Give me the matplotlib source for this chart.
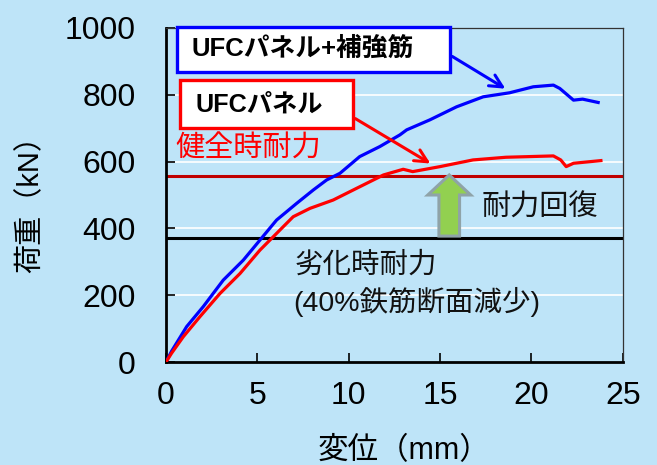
import matplotlib
matplotlib.use("Agg")
import matplotlib.pyplot as plt
from matplotlib.patches import Rectangle, FancyArrow

plt.rcParams['font.family'] = ['Liberation Sans', 'Noto Sans CJK JP', 'DejaVu Sans']

# ---- data ----
blue_x = [0, 0.3, 1.13, 2.04, 3.13, 4.23, 5.14, 6.05, 7.15, 8.06, 8.79, 9.52, 10.6, 11.7,
          12.8, 13.17, 14.44, 15.9, 17.36, 18.8, 20.1, 21.2, 21.55, 22.3, 22.8, 23.65]
blue_y = [0, 32, 106, 166, 245, 305, 365, 425, 475, 515, 545, 565, 615, 645,
          680, 695, 725, 764, 794, 806, 824, 829, 819, 784, 787, 777]

red_x = [0, 0.3, 0.95, 1.86, 2.95, 4.05, 5.14, 6.05, 6.96, 7.88, 9.15, 10.43, 11.9, 12.98,
         13.5, 15.0, 16.8, 18.6, 21.2, 21.6, 21.9, 22.3, 23.8]
red_y = [0, 26, 76, 136, 205, 265, 335, 385, 435, 460, 485, 520, 560, 577,
         570, 585, 605, 613, 617, 605, 585, 595, 603]

sound_capacity = 557      # 健全時耐力
degraded_capacity = 372   # 劣化時耐力

x_ticks = [0, 5, 10, 15, 20, 25]
y_ticks = [0, 200, 400, 600, 800, 1000]

label_blue = "UFCパネル+補強筋"
label_red = "UFCパネル"

bg = '#BEE4F8'

fig = plt.figure(figsize=(6.57, 4.65), dpi=100, facecolor=bg)
ax = fig.add_axes([0.2527, 0.2215, 0.6953, 0.7183], facecolor=bg)

ax.set_xlim(0, 25)
ax.set_ylim(0, 1000)
ax.set_xticks(x_ticks)
ax.set_yticks(y_ticks)
ax.tick_params(direction='in', length=6.5, width=1.2, labelsize=23, color='black')
ax.tick_params(axis='y', pad=22)
ax.tick_params(axis='x', pad=14)

for g in y_ticks[1:-1]:
    ax.axhline(g, color='white', lw=1.2, zorder=1)

for s in ['left', 'bottom']:
    ax.spines[s].set_linewidth(2.0)
    ax.spines[s].set_color('black')
for s in ['top', 'right']:
    ax.spines[s].set_linewidth(0.9)
    ax.spines[s].set_color('#333333')

ax.axhline(sound_capacity, color='#C00000', lw=2.2, zorder=2)
ax.axhline(degraded_capacity, color='black', lw=2.2, zorder=2)

ax.plot(blue_x, blue_y, color='#0000FF', lw=2.3, zorder=4)
ax.plot(red_x, red_y, color='#FF0000', lw=2.3, zorder=4)

# green recovery arrow
arr = FancyArrow(15.5, 377, 0, 183, width=1.13, head_width=2.35, head_length=60,
                 length_includes_head=True, facecolor='#92D050', edgecolor='#8FA3A8',
                 lw=2.2, zorder=5)
ax.add_patch(arr)

# label boxes
ax.add_patch(Rectangle((0.0234, 0.869), 0.621 - 0.0234, 1.004 - 0.869, transform=ax.transAxes,
                       facecolor='white', edgecolor='#0000FF', lw=2.4, clip_on=False, zorder=6))
ax.text(0.056, 0.937, label_blue, transform=ax.transAxes, fontsize=18.5, fontweight='bold',
        ha='left', va='center', zorder=7)
ax.add_patch(Rectangle((0.0306, 0.7015), 0.409 - 0.0306, 0.844 - 0.7015, transform=ax.transAxes,
                       facecolor='white', edgecolor='#FF0000', lw=2.4, clip_on=False, zorder=6))
ax.text(0.0635, 0.772, label_red, transform=ax.transAxes, fontsize=18.2, fontweight='bold',
        ha='left', va='center', zorder=7)

# pointer arrows
ax.annotate('', xy=(18.7, 814), xytext=(15.54, 919),
            arrowprops=dict(arrowstyle='->,head_length=0.9,head_width=0.45', color='#0000FF', lw=2.2),
            zorder=6)
ax.annotate('', xy=(14.6, 590), xytext=(10.23, 733),
            arrowprops=dict(arrowstyle='->,head_length=0.9,head_width=0.45', color='#FF0000', lw=2.2),
            zorder=6)

ax.text(0.0197, 0.638, "健全時耐力", transform=ax.transAxes, fontsize=21, color='#FF0000',
        ha='left', va='center', zorder=7)
ax.text(0.691, 0.461, "耐力回復", transform=ax.transAxes, fontsize=21, color='#111111',
        ha='left', va='center', zorder=7)
ax.text(0.282, 0.29, "劣化時耐力", transform=ax.transAxes, fontsize=20.5, color='#111111',
        ha='left', va='center', zorder=7)
ax.text(0.278, 0.18, "(40%鉄筋断面減少)", transform=ax.transAxes, fontsize=20.5, color='#111111',
        ha='left', va='center', zorder=7)

fig.text(30 / 657, 1 - 197 / 465, "荷重（kN）", rotation=90, fontsize=21,
         ha='center', va='center')
fig.text(403.5 / 657, 1 - 451 / 465, "変位（mm）", fontsize=22, ha='center', va='center')

fig.savefig('out.png', dpi=100, facecolor=bg)
